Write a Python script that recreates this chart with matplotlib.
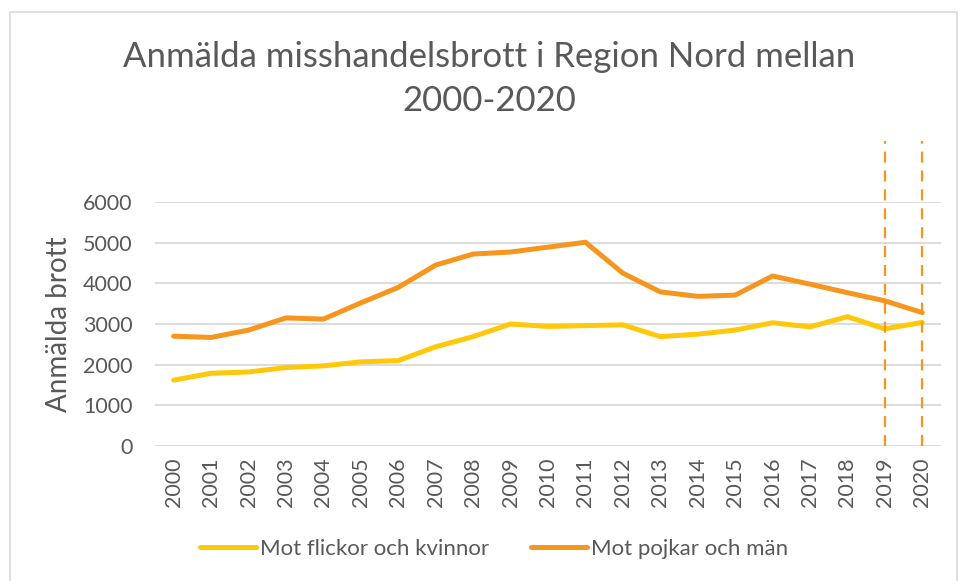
import matplotlib
matplotlib.use("Agg")
from matplotlib import pyplot as plt
from matplotlib.patches import Rectangle

# data
years = list(range(2000, 2021))
women = [1620, 1790, 1820, 1930, 1970, 2070, 2100, 2440, 2690, 3000,
         2940, 2960, 2980, 2690, 2750, 2850, 3030, 2930, 3180, 2880, 3040]
men = [2700, 2670, 2850, 3150, 3120, 3520, 3900, 4450, 4720, 4770,
       4890, 5010, 4250, 3790, 3680, 3710, 4180, 3980, 3770, 3570, 3280]
marked_years = [2019, 2020]
marker_top = 7500
yticks = [0, 1000, 2000, 3000, 4000, 5000, 6000]

grey_text = '#595959'
plt.rcParams['font.family'] = ['Lato', 'DejaVu Sans']

fig = plt.figure(figsize=(9.6, 5.81), dpi=100)
ax = fig.add_axes([155 / 960, 1 - 446 / 581, (941 - 155) / 960, (446 - 202) / 581])

ax.plot(years, women, color='#FFC80A', lw=3.6, solid_capstyle='round',
        label='Mot flickor och kvinnor', zorder=3)
ax.plot(years, men, color='#F7961E', lw=3.6, solid_capstyle='round',
        label='Mot pojkar och män', zorder=3)
ax.vlines(marked_years, 0, marker_top, colors='#F7961E', lw=1.6,
          linestyles=(0, (5, 3.5)), clip_on=False, zorder=4)

ax.set_xlim(1999.5, 2020.5)
ax.set_ylim(0, 6000)
ax.set_yticks(yticks)
ax.set_xticks(years)
ax.set_xticklabels([str(y) for y in years], rotation=90)
ax.tick_params(axis='both', length=0, labelsize=15.5, colors=grey_text)
ax.tick_params(axis='y', pad=16)
ax.tick_params(axis='x', pad=8)
ax.grid(axis='y', color='#D9D9D9', lw=1.3, zorder=0)
for s in ax.spines.values():
    s.set_visible(False)

ax.set_ylabel('Anmälda brott', fontsize=20, color=grey_text, labelpad=8)

fig.text(489 / 960, 1 - 57 / 581, 'Anmälda misshandelsbrott i Region Nord mellan',
         ha='center', va='center', fontsize=25, color=grey_text)
fig.text(489 / 960, 1 - 101 / 581, '2000-2020',
         ha='center', va='center', fontsize=25, color=grey_text)

fig.legend(loc='center', bbox_to_anchor=(494 / 960, 1 - 549 / 581), ncol=2,
           frameon=False, fontsize=16, labelcolor=grey_text,
           handlelength=2.5, handletextpad=0.18, columnspacing=1.9)

# chart border
fig.patches.append(Rectangle((10 / 960, -0.05), 947 / 960, 1.05 - 12 / 581,
                             transform=fig.transFigure, fill=False,
                             edgecolor='#D9D9D9', lw=1.2))

fig.savefig('out.png', dpi=100)
